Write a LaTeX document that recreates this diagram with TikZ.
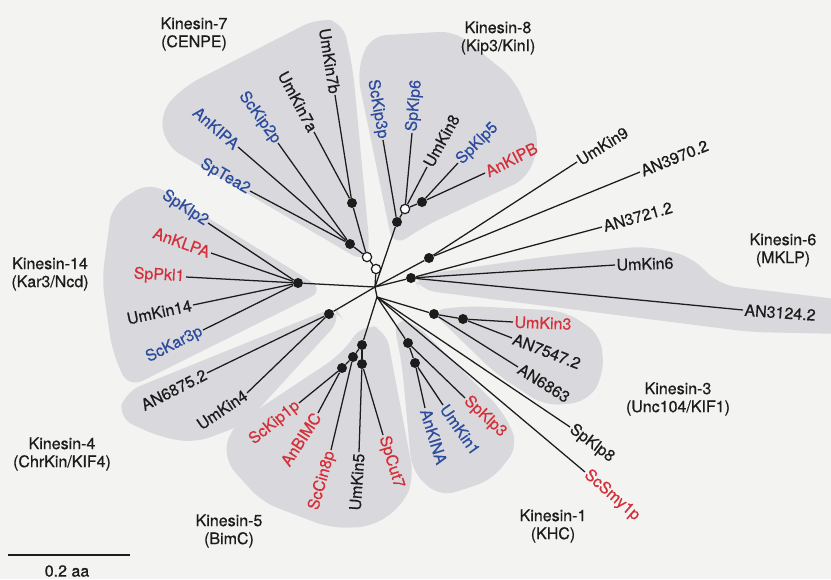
\documentclass[tikz,border=0pt]{standalone}
\usepackage{fontspec}
\setmainfont{TeX Gyre Heros}[BoldFont={TeX Gyre Heros},BoldFeatures={FakeBold=0.6}]
\usepackage{xcolor}
\usepackage{tikz}
\usetikzlibrary{positioning}
\definecolor{paper}{HTML}{F3F3F1}
\definecolor{clade}{HTML}{D9D9DD}
\definecolor{ink}{HTML}{1C1C1C}
\definecolor{kblue}{HTML}{2D4C9E}
\definecolor{kred}{HTML}{D5303A}

\begin{document}
\begin{tikzpicture}[x=0.75pt,y=-0.75pt,
  font=\fontsize{12}{13.5}\selectfont\bfseries,
  branch/.style={draw=ink,line width=0.95pt},
  dot/.style={circle,fill=ink,inner sep=0pt,minimum size=7.5pt},
  hollow/.style={circle,draw=ink,fill=white,line width=0.9pt,inner sep=0pt,minimum size=7pt},
  leaf/.style={inner sep=1pt},
  family/.style={align=center,text=ink},
  blob/.style={fill=clade,rounded corners=12pt}]
  \clip (0,0) rectangle (831,579);
  \fill[paper] (0,0) rectangle (831,579);

  % shaded families
  \fill[blob] (366,263) -- (166,146) -- (160,112) -- (185,86) -- (318,18) -- (343,22) -- (353,70) -- (370,250) -- cycle;
  \fill[blob] (393,247) -- (357,72) -- (370,36) -- (455,31) -- (515,80) -- (540,140) -- (528,178) -- (425,226) -- cycle;
  \fill[blob] (412,276) -- (550,256) -- (645,246) -- (690,256) -- (720,285) -- (845,300) -- (845,334) -- (750,332) -- (420,290) -- cycle;
  \fill[blob] (325,290) -- (150,182) -- (112,205) -- (102,280) -- (112,350) -- (128,388) -- cycle;
  \fill[blob] (335,307) -- (125,392) -- (118,418) -- (160,437) -- (195,443) -- (245,424) -- (342,318) -- cycle;
  \fill[blob] (364,323) -- (340,355) -- (230,428) -- (224,460) -- (262,502) -- (330,528) -- (372,527) -- (403,505) -- (414,478) -- (386,330) -- cycle;
  \fill[blob] (393,318) -- (402,365) -- (412,472) -- (440,497) -- (492,480) -- (519,445) -- (502,410) -- (414,322) -- cycle;
  \fill[blob] (430,310) -- (470,306) -- (565,311) -- (601,335) -- (604,375) -- (587,402) -- (545,406) -- (495,373) -- cycle;

  % inner nodes
  \coordinate (r) at (375,287);
  \coordinate (rb) at (377,297);
  \foreach \n/\x/\y in {k7a/352/203, k7b/350/244, k8a/397/222, k8b/422/202,
      k9/429/258, k6/411/278, k14/298/283, k4/329/314, k5a/362/345, k5b/353/357,
      k5c/342/368, k5d/362/364, k1a/408/343, k1b/415/363, k3a/434/314, k3b/463/319}
    \node[dot] (\n) at (\x,\y) {};
  \foreach \n/\x/\y in {o1/367/257, o2/376/269, o8/405/209}
    \node[hollow] (\n) at (\x,\y) {};

  \foreach \a/\b in {r/o2, o2/o1, o1/k7a, o1/k7b, r/k8a, k8a/o8, o8/k8b, r/k9, r/k6,
      r/k14, r/rb, r/k4, rb/k5a, k5a/k5b, k5a/k5d, k5b/k5c, rb/k1a, k1a/k1b, rb/k3a, k3a/k3b}
    \draw[branch] (\a) -- (\b);

  % leaves: name/x/y/parent/angle/anchor/colour/text
  \foreach \lf/\x/\y/\up/\ang/\side/\col/\lbl in {
      u7b/335/95/k7a/-81/east/ink/UmKin7b,
      u7a/314/132/k7a/-62/east/ink/UmKin7a,
      sck2/278/143/k7b/-54/east/kblue/ScKip2p,
      ankA/238/147/k7b/-41/east/kblue/AnKIPA,
      spt2/250/191/k7b/-30/east/kblue/SpTea2,
      sck3/383/140/k8a/-80/east/kblue/ScKip3p,
      spk6/412/133/o8/85/west/kblue/SpKlp6,
      u8/427/167/o8/61/west/ink/UmKin8,
      spk5/458/163/k8b/45/west/kblue/SpKlp5,
      ankB/485/173/k8b/27/west/kred/AnKIPB,
      u9/577/162/k9/32/west/ink/UmKin9,
      an3970/640/172/k9/22/west/ink/AN3970.2,
      an3721/602/227/k6/16/west/ink/AN3721.2,
      u6/615/265/k6/2/west/ink/UmKin6,
      an3124/743/310/k6/-4/west/ink/AN3124.2,
      spk2/208/223/k14/-33/east/kblue/SpKlp2,
      anklpa/211/253/k14/-20/east/kred/AnKLPA,
      sppk/186/277/k14/-3/east/kred/SpPkl1,
      u14/193/305/k14/12/east/ink/UmKin14,
      sckar/203/330/k14/27/east/kblue/ScKar3p,
      an6875/207/373/k4/27/east/ink/AN6875.2,
      u4/247/393/k4/34/east/ink/UmKin4,
      sck1/299/403/k5c/39/east/kred/ScKip1p,
      anbim/318/413/k5c/57/east/kred/AnBIMC,
      sccin/331/450/k5b/74/east/kred/ScCin8p,
      u5/359/452/k5d/86/east/ink/UmKin5,
      spcut/383/435/k5d/-73/west/kred/SpCut7,
      ankina/425/408/k1b/-73/west/kblue/AnKINA,
      u1/443/405/k1b/-55/west/kblue/UmKin1,
      spk3/465/398/k1a/-43/west/kred/SpKlp3,
      spk8/570/427/rb/-37/west/ink/SpKlp8,
      scsmy/585/472/rb/-41/west/kred/ScSmy1p,
      u3/513/322/k3b/-2/west/kred/UmKin3,
      an7547/512/338/k3b/-21/west/ink/AN7547.2,
      an6863/518/367/k3a/-32/west/ink/AN6863} {
    \node[leaf,text=\col,rotate=\ang,anchor=\side] (\lf) at (\x,\y) {\lbl};
    \draw[branch] (\up) -- (\lf.\side);
  }

  % family names
  \node[family] (fam7) at (194,34) {Kinesin-7\\(CENPE)};
  \node[family] (fam8) at (498,38) {Kinesin-8\\(Kip3/KinI)};
  \node[family] (fam6) at (783,250) {Kinesin-6\\(MKLP)};
  \node[family] (fam14) at (50,274) {Kinesin-14\\(Kar3/Ncd)};
  \node[family] (fam4) at (62,454) {Kinesin-4\\(ChrKin/KIF4)};
  \node[family] (fam5) at (229,531) {Kinesin-5\\(BimC)};
  \node[family] (fam1) at (553,526) {Kinesin-1\\(KHC)};
  \node[family] (fam3) at (678,399) {Kinesin-3\\(Unc104/KIF1)};

  % scale bar
  \coordinate (bar0) at (8,555);
  \coordinate (bar1) at (130,555);
  \draw[ink,line width=1.1pt] (bar0) -- (bar1);
  \node[text=ink] (barlbl) at (67,571) {0.2 aa};
\end{tikzpicture}
\end{document}
